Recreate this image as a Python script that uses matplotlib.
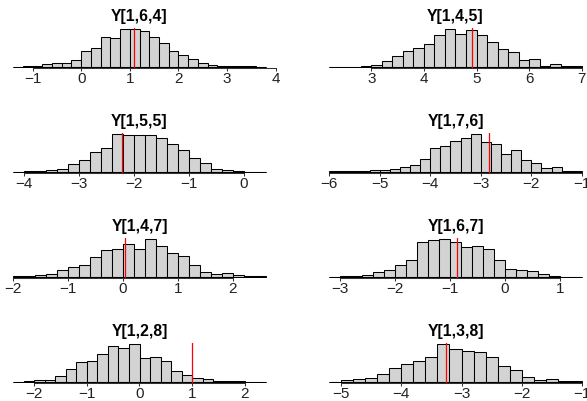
import matplotlib
matplotlib.use('Agg')
import matplotlib.pyplot as plt
import numpy as np

plt.rcParams['font.family'] = ['Liberation Sans', 'DejaVu Sans']
plt.rcParams['axes.unicode_minus'] = True

# ---------------- data ----------------
titles = ["Y[1,6,4]", "Y[1,4,5]", "Y[1,5,5]", "Y[1,7,6]",
          "Y[1,4,7]", "Y[1,6,7]", "Y[1,2,8]", "Y[1,3,8]"]

bin_width = 0.2
bin_starts = [-1.4, 2.2, -4.2, -6.0, -2.0, -3.2, -2.4, -5.2]

counts_164 = [0, 1, 2, 8, 10, 11, 19, 46, 55, 88, 86, 113, 113, 106, 88, 71,
              47, 34, 22, 10, 4, 3, 2, 1, 1, 0]
counts_145 = [0, 0, 0, 3, 5, 16, 32, 48, 57, 70, 95, 114, 99, 112, 96, 75,
              54, 45, 20, 22, 2, 7, 2, 2]
counts_155 = [0, 1, 2, 5, 8, 23, 35, 58, 71, 112, 109, 109, 109, 101, 83, 63,
              40, 27, 8, 4, 2, 0, 0]
counts_176 = [2, 1, 2, 1, 4, 4, 7, 14, 19, 38, 71, 79, 92, 102, 114, 91, 85,
              54, 66, 34, 27, 10, 13, 3, 2]
counts_147 = [1, 1, 4, 9, 21, 30, 36, 58, 82, 83, 98, 84, 114, 92, 72, 61,
              36, 14, 9, 11, 4, 3, 1]
counts_167 = [0, 2, 3, 6, 13, 21, 36, 52, 105, 111, 115, 105, 91, 93, 85, 50,
              24, 20, 17, 8, 3, 0, 0]
counts_128 = [0, 2, 6, 6, 16, 37, 58, 62, 83, 105, 100, 112, 71, 73, 61, 32,
              19, 12, 7, 2, 1, 1, 0, 0]
counts_138 = [0, 6, 8, 11, 23, 42, 53, 62, 74, 113, 97, 92, 89, 74, 47, 34,
              14, 6, 9, 1, 1]

all_counts = [counts_164, counts_145, counts_155, counts_176,
              counts_147, counts_167, counts_128, counts_138]

true_values = [1.09, 4.91, -2.21, -2.84, 0.03, -0.87, 0.99, -3.26]

tick_values = [[-1, 0, 1, 2, 3, 4], [3, 4, 5, 6, 7], [-4, -3, -2, -1, 0],
               [-6, -5, -4, -3, -2, -1], [-2, -1, 0, 1, 2], [-3, -2, -1, 0, 1],
               [-2, -1, 0, 1, 2], [-5, -4, -3, -2, -1]]

# ---------------- figure ----------------
W, H = 587, 401
fig = plt.figure(figsize=(W / 100, H / 100), dpi=100)
fig.patch.set_facecolor('white')

col_x0 = [3, 319]
ax_w = 273
row_top0 = 27.5
row_pitch = 105
ax_h = 40.6

for i in range(8):
    row, col = divmod(i, 2)
    x0 = col_x0[col]
    top = row_top0 + row_pitch * row
    ax = fig.add_axes([x0 / W, 1 - (top + ax_h) / H, ax_w / W, ax_h / H])

    counts = np.array(all_counts[i], dtype=float)
    edges = bin_starts[i] + np.arange(len(counts)) * bin_width
    lo, hi = edges[0], edges[-1] + bin_width

    ax.bar(edges, counts, width=bin_width, align='edge', color='#D3D3D3',
           edgecolor='black', linewidth=0.75, zorder=2)
    ax.hlines(0, lo, hi, color='black', linewidth=0.75, zorder=2)
    ax.axvline(true_values[i], color='red', linewidth=0.9, zorder=3)

    r = hi - lo
    ax.set_xlim(lo - 0.04 * r, hi + 0.04 * r)
    m = counts.max()
    ax.set_ylim(-0.04 * m, 1.04 * m)

    for s in ['left', 'top', 'right']:
        ax.spines[s].set_visible(False)
    ticks = tick_values[i]
    ax.spines['bottom'].set_bounds(ticks[0], ticks[-1])
    ax.spines['bottom'].set_color('#333333')
    ax.spines['bottom'].set_linewidth(0.75)
    ax.set_yticks([])
    ax.set_xticks(ticks)
    ax.set_xticklabels([str(t).replace('-', '\u2212') for t in ticks])
    ax.tick_params(axis='x', length=2.5, width=0.75, pad=0.5, labelsize=11,
                   color='#333333', labelcolor='#222222')
    ax.set_facecolor('none')
    ax.set_title(titles[i], fontweight='bold', fontsize=11.3, pad=5)

fig.savefig('out.png', dpi=100, facecolor='white')
